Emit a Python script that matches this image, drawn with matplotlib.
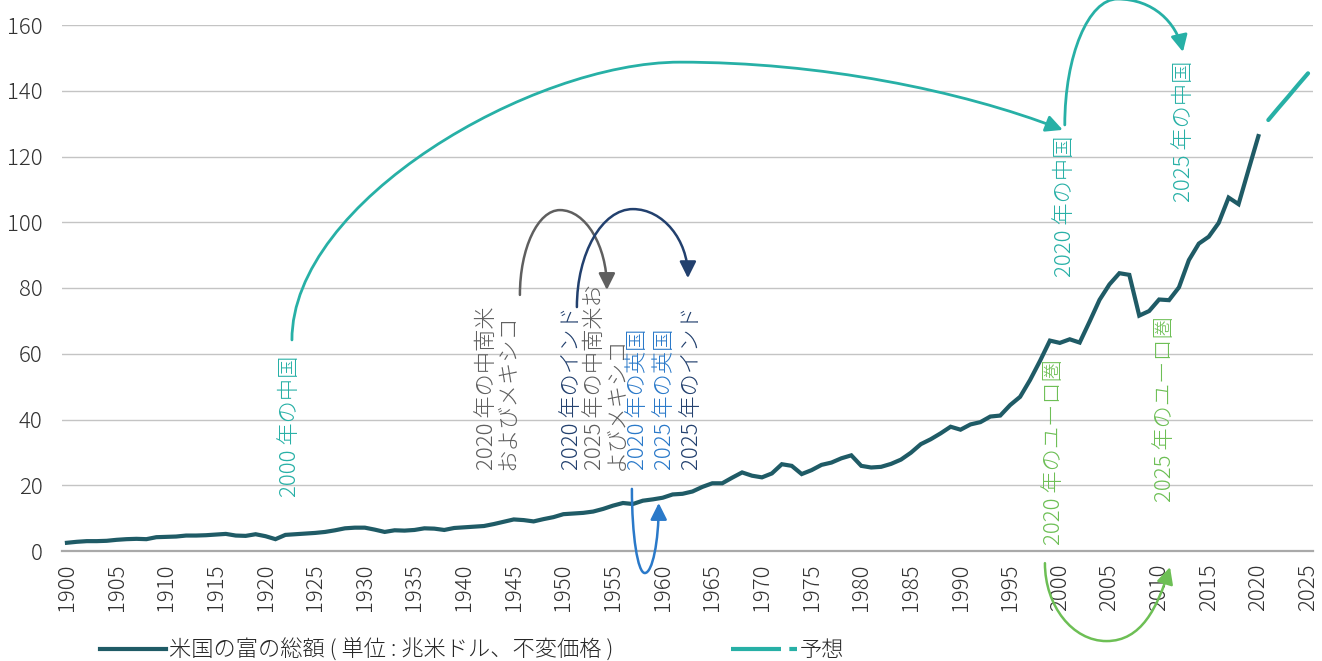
import matplotlib
matplotlib.use("Agg")
import matplotlib.pyplot as plt
from matplotlib.path import Path
from matplotlib.patches import FancyArrowPatch
from matplotlib.lines import Line2D

plt.rcParams['font.family'] = ['Noto Sans CJK JP', 'DejaVu Sans']
plt.rcParams['font.weight'] = 'light'

# ---- data: US total wealth, trillion USD (constant prices) ----
years = list(range(1900, 2021))
wealth = [
    2.5, 2.8, 3.0, 3.0, 3.1, 3.4, 3.6, 3.7, 3.6, 4.2,        # 1900-1909
    4.3, 4.4, 4.7, 4.7, 4.8, 5.0, 5.2, 4.7, 4.6, 5.1,        # 1910-1919
    4.5, 3.6, 4.9, 5.1, 5.3, 5.5, 5.8, 6.3, 6.9, 7.1,        # 1920-1929
    7.1, 6.5, 5.8, 6.3, 6.2, 6.4, 6.9, 6.8, 6.4, 7.0,        # 1930-1939
    7.2, 7.4, 7.6, 8.2, 8.9, 9.6, 9.4, 9.0, 9.7, 10.3,       # 1940-1949
    11.2, 11.4, 11.6, 12.0, 12.8, 13.8, 14.6, 14.3, 15.3, 15.7,  # 1950-1959
    16.2, 17.2, 17.4, 18.1, 19.5, 20.6, 20.6, 22.3, 23.9, 22.9,  # 1960-1969
    22.4, 23.6, 26.4, 25.9, 23.4, 24.6, 26.2, 26.9, 28.2, 29.1,  # 1970-1979
    25.9, 25.4, 25.6, 26.5, 27.8, 29.9, 32.5, 34.0, 35.8, 37.8,  # 1980-1989
    36.9, 38.5, 39.2, 40.9, 41.2, 44.4, 46.9, 52.0, 57.8, 64.0,  # 1990-1999
    63.3, 64.4, 63.4, 69.8, 76.4, 81.1, 84.5, 84.0, 71.6, 73.0,  # 2000-2009
    76.5, 76.3, 80.2, 88.5, 93.5, 95.6, 99.8, 107.5, 105.5, 115.9,  # 2010-2019
    126.2,                                                    # 2020
]
forecast_years = [2021, 2022, 2023, 2024, 2025]
forecast = [131.1, 134.7, 138.2, 141.8, 145.3]

xtick_years = list(range(1900, 2026, 5))
yticks = [0, 20, 40, 60, 80, 100, 120, 140, 160]

legend_labels = ["米国の富の総額 ( 単位 : 兆米ドル、不変価格 )", "予想"]

# ---- colours ----
C_MAIN = "#1f5b66"
C_TEAL = "#27b0a6"
C_GREEN = "#6dbf55"
C_BLUE = "#2a79c9"
C_NAVY = "#22406e"
C_GRAY = "#5f5f5f"
C_TICK = "#333333"

FS = 16

fig = plt.figure(figsize=(13.22, 6.61), dpi=100)
ax = fig.add_axes([62 / 1322, 1 - 551 / 661, (1313 - 62) / 1322, (551 - 25) / 661])

ax.plot(years, wealth, color=C_MAIN, lw=3.0, solid_joinstyle='miter', zorder=3)
ax.plot(forecast_years, forecast, color=C_TEAL, lw=3.0, solid_capstyle='round', zorder=3)

ax.set_xlim(1899.5, 2025.5)
ax.set_ylim(0, 160)
ax.set_xticks(xtick_years)
ax.set_xticklabels([str(y) for y in xtick_years], rotation=90)
ax.set_yticks(yticks)
ax.set_yticklabels([str(v) for v in yticks])
ax.tick_params(axis='x', length=0, pad=9, labelsize=FS, labelcolor=C_TICK)
ax.tick_params(axis='y', length=0, pad=14, labelsize=FS, labelcolor=C_TICK)
ax.grid(axis='y', color='#c4c4c4', lw=1.0)
ax.set_axisbelow(True)
for side in ('top', 'right', 'left'):
    ax.spines[side].set_visible(False)
ax.spines['bottom'].set_color('#a9a9a9')
ax.spines['bottom'].set_linewidth(1.6)


def hump(x0, y0, xp, yp, x1, y1, k=0.55, tilt=0.0):
    """Two-segment cubic curve: vertical start, extreme at (xp, yp), end at (x1, y1)."""
    verts = [
        (x0, y0),
        (x0, y0 + k * (yp - y0)),
        (xp - k * (xp - x0), yp),
        (xp, yp),
        (xp + k * (x1 - xp), yp),
        (x1 - tilt * (x1 - xp), y1 + k * (yp - y1)),
        (x1, y1),
    ]
    codes = [Path.MOVETO] + [Path.CURVE4] * 6
    return Path(verts, codes)


def arrow(path, color, lw=1.8, hl=1.0, hw=0.5):
    p = FancyArrowPatch(path=path, transform=ax.transData,
                        arrowstyle=f'-|>,head_length={hl},head_width={hw}',
                        mutation_scale=10, color=color, lw=lw,
                        clip_on=False, zorder=5)
    ax.add_patch(p)


# long arc: 2000 China -> 2020 China
big = Path([(1922.66, 64.2), (1922.66, 106.5), (1946.9, 148.7), (1961.73, 148.7),
            (1975.83, 148.7), (1989.93, 140.2), (2000.30, 128.1)],
           [Path.MOVETO] + [Path.CURVE4] * 6)
arrow(big, C_TEAL, lw=2.0)
# 2020 China -> 2025 China
arrow(hump(2000.5, 129.6, 2005.8, 167.9, 2012.4, 151.8, tilt=0.1), C_TEAL, lw=2.0)
# Latin America & Mexico
arrow(hump(1945.62, 77.9, 1949.65, 103.7, 1954.38, 79.4), C_GRAY)
# India
arrow(hump(1951.36, 74.2, 1957.0, 104.0, 1962.54, 83.0), C_NAVY)
# UK
arrow(hump(1956.9, 18.9, 1958.2, -6.7, 1959.6, 14.6), C_BLUE)
# Euro area
arrow(hump(1998.5, -3.7, 2004.7, -27.4, 2011.1, -4.9, tilt=0.2), C_GREEN)


def vlabel(x, y, s, color, **kw):
    ax.text(x, y, s, color=color, fontsize=FS, rotation=90, rotation_mode='anchor',
            ha='left', va='center', clip_on=False, zorder=4, **kw)


vlabel(1922.46, 16.4, "2000 年の中国", C_TEAL)
vlabel(1943.35, 24.6, "2020 年の中南米\nおよびメキシコ", C_GRAY, linespacing=0.95)
vlabel(1950.86, 24.6, "2020 年のインド", C_NAVY)
vlabel(1954.28, 24.6, "2025 年の中南米お\nよびメキシコ", C_GRAY, linespacing=0.95)
vlabel(1957.50, 24.6, "2020 年の英国", C_BLUE)
vlabel(1960.22, 24.6, "2025 年の英国", C_BLUE)
vlabel(1962.94, 24.6, "2025 年のインド", C_NAVY)
vlabel(2000.5, 83.3, "2020 年の中国", C_TEAL)
vlabel(2012.5, 106.2, "2025 年の中国", C_TEAL)
vlabel(1999.4, 1.8, "2020 年のユーロ圏", C_GREEN)
vlabel(2010.6, 14.9, "2025 年のユーロ圏", C_GREEN)

handles = [Line2D([], [], color=C_MAIN, lw=3.0),
           Line2D([], [], color=C_TEAL, lw=3.0, dashes=(12.0, 2.0))]
fig.legend(handles, legend_labels, loc='center left',
           bbox_to_anchor=(100 / 1322, 1 - 650 / 661), ncol=2, frameon=False,
           handlelength=2.95, handletextpad=0.15, columnspacing=5.3,
           borderpad=0, borderaxespad=0, fontsize=FS, labelcolor='#262626')

fig.savefig("out.png", dpi=100)
